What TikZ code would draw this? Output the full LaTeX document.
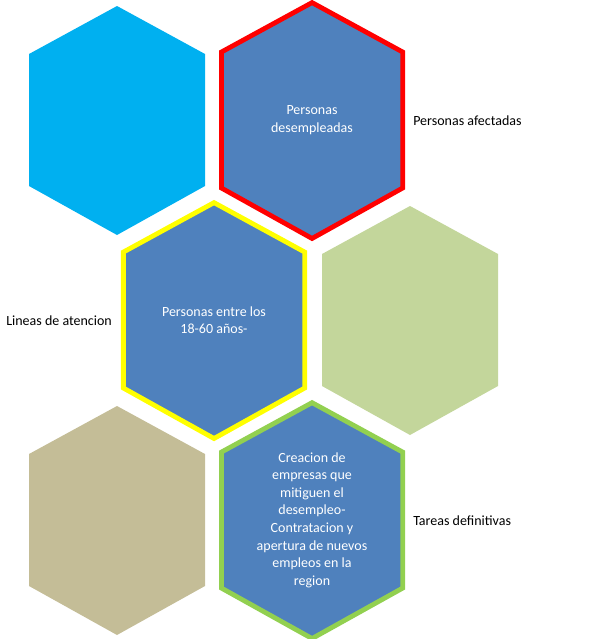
\documentclass[tikz,border=0pt]{standalone}
\usepackage{fontspec}
\setmainfont{Carlito}
\usetikzlibrary{positioning}

\definecolor{hexcyan}{HTML}{00B0F0}
\definecolor{hexblue}{HTML}{4F81BD}
\definecolor{hexolive}{HTML}{C3D69B}
\definecolor{hextan}{HTML}{C4BD97}
\definecolor{hexred}{HTML}{FF0000}
\definecolor{hexyellow}{HTML}{FFFF00}
\definecolor{hexgreen}{HTML}{92D050}

% hexagon around a centre: #1 centre, #2 style
\newcommand{\hexcell}[2]{%
  \path[#2] (#1) +(0,-114) -- +(88,-66) -- +(88,66) -- +(0,115)
    -- +(-88,66) -- +(-88,-66) -- cycle;}

\tikzset{
  plain/.style={fill=#1},
  framed/.style={fill=hexblue, draw=#1, line width=3.6pt, line join=miter, scale=1.03},
  hextext/.style={text=white, align=center, font=\fontsize{10.5}{13.2}\selectfont},
  sidetext/.style={text=black, anchor=west, inner sep=0pt, font=\fontsize{10.5}{13.2}\selectfont}
}

\begin{document}
\begin{tikzpicture}[x=0.75pt, y=-0.75pt]
    \useasboundingbox (0,0) rectangle (592,639);
    % centres
    \coordinate (c1) at (117,120);
    \coordinate (c2) at (312,120);
    \coordinate (c3) at (214,320);
    \coordinate (c4) at (410,320);
    \coordinate (c5) at (117,520);
    \coordinate (c6) at (312,520);

    % top row
    \hexcell{c1}{plain=hexcyan}
    \hexcell{c2}{framed=hexred}
    % middle row
    \hexcell{c3}{framed=hexyellow}
    \hexcell{c4}{plain=hexolive}
    % bottom row
    \hexcell{c5}{plain=hextan}
    \hexcell{c6}{framed=hexgreen}

    % texts in the cells
    \node[hextext] (desempleadas) at (c2) {Personas\\desempleadas};
    \node[hextext] (edades) at (c3) {Personas entre los\\18-60 años-};
    \node[hextext] (empresas) at (c6)
    {Creacion de\\empresas que\\mitiguen el\\desempleo-\\Contratacion y\\apertura de nuevos\\empleos en la\\region};

    % side labels
    \node[sidetext] (afectadas) at (413,121) {Personas afectadas};
    \node[sidetext] (lineas) at (6,321) {Lineas de atencion};
    \node[sidetext] (tareas) at (413,521) {Tareas definitivas};
\end{tikzpicture}
\end{document}
